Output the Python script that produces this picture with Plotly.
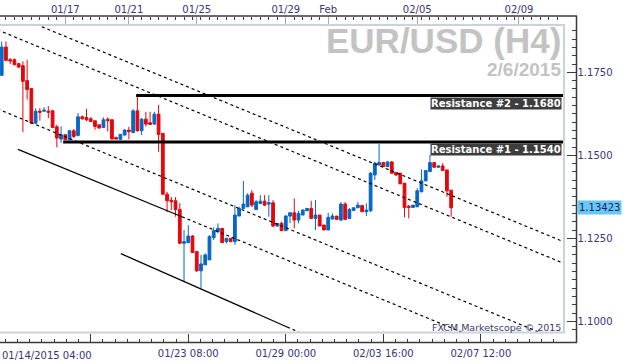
import plotly.graph_objects as go

W, H = 624, 364

# ---------------- data (EUR/USD, H4 bars) ----------------
opens = [1.1741, 1.1826, 1.1788, 1.1788, 1.1776, 1.1770, 1.1725, 1.1701, 1.1597, 1.1633,
         1.1633, 1.1633, 1.1634, 1.1586, 1.1549, 1.1562, 1.1547, 1.1574, 1.1560, 1.1616,
         1.1614, 1.1610, 1.1604, 1.1592, 1.1584, 1.1609, 1.1607, 1.1554, 1.1548, 1.1561,
         1.1576, 1.1569, 1.1634, 1.1574, 1.1609, 1.1598, 1.1594, 1.1624, 1.1566, 1.1383,
         1.1365, 1.1363, 1.1337, 1.1235, 1.1237, 1.1257, 1.1210, 1.1152, 1.1170, 1.1185,
         1.1252, 1.1270, 1.1280, 1.1240, 1.1250, 1.1240, 1.1317, 1.1340, 1.1345, 1.1386,
         1.1337, 1.1355, 1.1362, 1.1353, 1.1357, 1.1287, 1.1295, 1.1273, 1.1317, 1.1327,
         1.1305, 1.1320, 1.1333, 1.1340, 1.1310, 1.1320, 1.1290, 1.1275, 1.1308, 1.1317,
         1.1305, 1.1353, 1.1310, 1.1334, 1.1342, 1.1349, 1.1330, 1.1333, 1.1441, 1.1471,
         1.1478, 1.1466, 1.1480, 1.1448, 1.1446, 1.1416, 1.1347, 1.1343, 1.1345, 1.1390,
         1.1423, 1.1451, 1.1478, 1.1464, 1.1468, 1.1456, 1.1395]
highs = [1.1843, 1.1843, 1.1793, 1.1792, 1.1778, 1.1783, 1.1788, 1.1703, 1.1642, 1.1642,
         1.1645, 1.1648, 1.1637, 1.1592, 1.1587, 1.1564, 1.1577, 1.1579, 1.1627, 1.1620,
         1.1640, 1.1615, 1.1604, 1.1592, 1.1614, 1.1614, 1.1609, 1.1555, 1.1564, 1.1579,
         1.1586, 1.1639, 1.1685, 1.1612, 1.1631, 1.1631, 1.1631, 1.1652, 1.1567, 1.1390,
         1.1374, 1.1374, 1.1356, 1.1275, 1.1290, 1.1260, 1.1210, 1.1200, 1.1205, 1.1260,
         1.1283, 1.1295, 1.1281, 1.1251, 1.1251, 1.1350, 1.1345, 1.1423, 1.1386, 1.1395,
         1.1365, 1.1380, 1.1380, 1.1380, 1.1365, 1.1296, 1.1300, 1.1320, 1.1329, 1.1370,
         1.1333, 1.1338, 1.1341, 1.1363, 1.1365, 1.1320, 1.1290, 1.1327, 1.1325, 1.1317,
         1.1359, 1.1359, 1.1341, 1.1344, 1.1360, 1.1350, 1.1355, 1.1450, 1.1481, 1.1534,
         1.1480, 1.1481, 1.1483, 1.1450, 1.1447, 1.1417, 1.1350, 1.1350, 1.1401, 1.1458,
         1.1456, 1.1501, 1.1480, 1.1470, 1.1476, 1.1456, 1.1395]
lows = [1.1740, 1.1783, 1.1775, 1.1771, 1.1763, 1.1570, 1.1668, 1.1595, 1.1594, 1.1604,
        1.1630, 1.1612, 1.1582, 1.1524, 1.1537, 1.1546, 1.1546, 1.1552, 1.1557, 1.1607,
        1.1603, 1.1600, 1.1577, 1.1581, 1.1582, 1.1572, 1.1549, 1.1548, 1.1548, 1.1560,
        1.1548, 1.1566, 1.1571, 1.1561, 1.1586, 1.1592, 1.1592, 1.1511, 1.1380, 1.1329,
        1.1335, 1.1315, 1.1233, 1.1119, 1.1235, 1.1206, 1.1149, 1.1099, 1.1170, 1.1185,
        1.1245, 1.1265, 1.1236, 1.1235, 1.1239, 1.1230, 1.1317, 1.1339, 1.1344, 1.1344,
        1.1335, 1.1353, 1.1347, 1.1315, 1.1283, 1.1285, 1.1272, 1.1272, 1.1296, 1.1280,
        1.1295, 1.1320, 1.1332, 1.1310, 1.1275, 1.1287, 1.1275, 1.1275, 1.1307, 1.1307,
        1.1302, 1.1305, 1.1308, 1.1332, 1.1341, 1.1329, 1.1317, 1.1329, 1.1426, 1.1469,
        1.1465, 1.1465, 1.1444, 1.1438, 1.1414, 1.1313, 1.1310, 1.1343, 1.1345, 1.1389,
        1.1423, 1.1450, 1.1463, 1.1463, 1.1453, 1.1375, 1.1315]
closes = [1.1826, 1.1786, 1.1784, 1.1773, 1.1766, 1.1723, 1.1698, 1.1597, 1.1633, 1.1630,
          1.1636, 1.1630, 1.1584, 1.1552, 1.1562, 1.1547, 1.1574, 1.1557, 1.1616, 1.1610,
          1.1607, 1.1602, 1.1587, 1.1582, 1.1607, 1.1604, 1.1549, 1.1549, 1.1563, 1.1576,
          1.1571, 1.1634, 1.1574, 1.1609, 1.1594, 1.1593, 1.1624, 1.1563, 1.1383, 1.1363,
          1.1360, 1.1337, 1.1235, 1.1240, 1.1257, 1.1207, 1.1152, 1.1173, 1.1200, 1.1255,
          1.1273, 1.1280, 1.1237, 1.1250, 1.1240, 1.1320, 1.1340, 1.1353, 1.1380, 1.1350,
          1.1360, 1.1362, 1.1350, 1.1357, 1.1287, 1.1295, 1.1273, 1.1317, 1.1327, 1.1305,
          1.1325, 1.1335, 1.1340, 1.1310, 1.1320, 1.1287, 1.1275, 1.1313, 1.1317, 1.1307,
          1.1353, 1.1307, 1.1337, 1.1342, 1.1350, 1.1330, 1.1335, 1.1446, 1.1476, 1.1478,
          1.1466, 1.1480, 1.1446, 1.1441, 1.1414, 1.1343, 1.1343, 1.1350, 1.1393, 1.1423,
          1.1454, 1.1478, 1.1464, 1.1468, 1.1454, 1.1393, 1.1342]
bars = list(range(len(opens)))

last_price = 1.13423

# axis ticks / labels
bottom_tick_idx = [21, 44, 67, 90, 113]
bottom_tick_text = ["", "01/23 08:00", "01/29 00:00", "02/03 16:00", "02/07 12:00"]
first_bottom_label = "01/14/2015 04:00"
top_tick_idx = [15, 30, 46, 67, 77, 98, 122]
top_tick_text = ["01/17", "01/21", "01/25", "01/29", "Feb", "02/05", "02/09"]
price_ticks = [1.1000, 1.1250, 1.1500, 1.1750]
price_tick_text = ["1.1000", "1.1250", "1.1500", "1.1750"]

# resistance levels
res_labels = ["Resistance #2 - 1.1680", "Resistance #1 - 1.1540"]
res_levels = [1.1680, 1.1540]
res_start = [31.7, 14.5]
res_end = 134

# channel / trend lines (bar index, price)
ch_x0 = [-1, -1, -1, 3.84, 42.5, 28.1, 67.3]
ch_y0 = [1.19423, 1.1878, 1.1640, 1.1518, 1.1315, 1.1204, 1.0983]
ch_x1 = [134, 134, 134, 42.5, 134, 67.3, 80]
ch_y1 = [1.1232, 1.1167, 1.0929, 1.1315, 1.0833, 1.0983, 1.0912]
ch_dashed = [True, True, True, False, True, False, True]

title_text = "EUR/USD (H4)"
date_text = "2/6/2015"
credit_text = "FXCM Marketscope © 2015"

# ---------------- style ----------------
BLUE = "#0866c6"
RED = "#e2080e"
AX = "#3a3a3a"
TXT = "#35357a"
FONT = "DejaVu Sans"

X_RANGE = [-0.401, 132.85]
Y_RANGE = [1.09648, 1.18895]
px = lambda v: v / W
py = lambda v: (H - v) / H
# price value that sits at a given pixel row (used only to hang the day markers under the top axis)
price_at_row = lambda r: Y_RANGE[1] - (r - 26) * (Y_RANGE[1] - Y_RANGE[0]) / (333 - 26)

fig = go.Figure()

# channel lines
for x0, y0, x1, y1, d in zip(ch_x0, ch_y0, ch_x1, ch_y1, ch_dashed):
    fig.add_trace(go.Scatter(
        x=[x0, x1], y=[y0, y1], mode="lines",
        line=dict(color="black", width=1.2, dash="3px,3px" if d else "solid"),
        hoverinfo="skip", showlegend=False))

# candles
fig.add_trace(go.Candlestick(
    x=bars, open=opens, high=highs, low=lows, close=closes,
    increasing=dict(line=dict(color=BLUE, width=1), fillcolor=BLUE),
    decreasing=dict(line=dict(color=RED, width=1), fillcolor=RED),
    whiskerwidth=0, showlegend=False, hoverinfo="skip"))

# resistance lines (on top axis, which matches bottom axis)
for s, lv in zip(res_start, res_levels):
    fig.add_trace(go.Scatter(
        x=[s, res_end], y=[lv, lv], mode="lines", xaxis="x2",
        line=dict(color="black", width=3), hoverinfo="skip", showlegend=False))

# orange day markers hanging from the top axis
fig.add_trace(go.Scatter(
    x=top_tick_idx, y=[price_at_row(19)] * len(top_tick_idx), mode="markers", xaxis="x2",
    marker=dict(symbol="triangle-down", size=7, color="#f2a12b", line=dict(width=0)),
    cliponaxis=False, hoverinfo="skip", showlegend=False))

annotations = []
# watermark
annotations.append(dict(text="<b>%s</b>" % title_text, xref="paper", yref="paper",
                        x=px(563), y=py(19), xanchor="right", yanchor="top", showarrow=False,
                        font=dict(family="Liberation Sans", size=35, color="#c3c3c3")))
annotations.append(dict(text="<b>%s</b>" % date_text, xref="paper", yref="paper",
                        x=px(563), y=py(57), xanchor="right", yanchor="top", showarrow=False,
                        font=dict(family="Liberation Sans", size=19, color="#c3c3c3")))
# resistance labels
for lab, lv in zip(res_labels, res_levels):
    annotations.append(dict(text="<b>%s</b>" % lab, xref="paper", yref="y",
                            x=px(562), y=lv, xanchor="right", yanchor="top", yshift=-1,
                            showarrow=False, bgcolor="#3d3d3d", borderpad=0,
                            font=dict(family=FONT, size=10, color="white")))
# last price tag
annotations.append(dict(text=f"{last_price:.5f}", xref="paper", yref="y",
                        x=px(577), y=last_price, xanchor="left", yanchor="middle",
                        showarrow=False, bgcolor="#66c8f7", borderpad=1,
                        font=dict(family=FONT, size=10, color="#1c1c5c")))
# credit
annotations.append(dict(text=credit_text, xref="paper", yref="paper",
                        x=px(563), y=py(327.5), xanchor="right", yanchor="middle",
                        showarrow=False, font=dict(family=FONT, size=9.5, color="#3a3a6a")))
# first bottom label
annotations.append(dict(text=first_bottom_label, xref="paper", yref="paper",
                        x=0, y=py(355), xanchor="left", yanchor="middle",
                        showarrow=False, font=dict(family=FONT, size=10, color=TXT)))

shapes = [
    # inner light frame
    dict(type="rect", xref="paper", yref="paper", x0=px(-2), x1=px(564), y0=py(332.5), y1=py(25),
         line=dict(color="#c9d3df", width=2), layer="above"),
    # axis frame lines
    dict(type="line", xref="paper", yref="paper", x0=0, x1=px(577), y0=py(16), y1=py(16),
         line=dict(color=AX, width=1.5)),
    dict(type="line", xref="paper", yref="paper", x0=0, x1=px(577), y0=py(342.5), y1=py(342.5),
         line=dict(color=AX, width=1.5)),
    dict(type="line", xref="paper", yref="paper", x0=px(576.5), x1=px(576.5), y0=py(16), y1=py(343),
         line=dict(color=AX, width=1.5)),
]

tickfont = dict(family=FONT, size=10, color=TXT)
fig.update_layout(
    width=W, height=H, margin=dict(l=0, r=0, t=0, b=0),
    paper_bgcolor="white", plot_bgcolor="white", showlegend=False,
    boxgap=0.35, boxgroupgap=0,
    xaxis=dict(domain=[0, px(565)], range=X_RANGE, autorange=False, anchor="free",
               position=py(342.5),
               showgrid=False, zeroline=False, showline=False,
               rangeslider=dict(visible=False), fixedrange=True,
               tickmode="array", tickvals=bottom_tick_idx, ticktext=bottom_tick_text,
               ticks="inside", ticklen=9, tickcolor=AX, tickwidth=1,
               minor=dict(tickmode="linear", tick0=21, dtick=23 / 8, ticks="inside",
                          ticklen=4, tickcolor=AX, tickwidth=1, showgrid=False),
               tickfont=tickfont, ticklabelstandoff=3, automargin=False),
    xaxis2=dict(overlaying="x", matches="x", anchor="free", position=py(16), side="top",
                range=X_RANGE, autorange=False,
                showgrid=False, zeroline=False, showline=False, fixedrange=True,
                tickmode="array", tickvals=top_tick_idx, ticktext=top_tick_text,
                ticks="inside", ticklen=9, tickcolor="#a9a9a9", tickwidth=1,
                minor=dict(tickmode="linear", tick0=1, dtick=2, ticks="inside",
                           ticklen=3, tickcolor=AX, tickwidth=1, showgrid=False),
                tickfont=tickfont, ticklabelstandoff=1, automargin=False),
    yaxis=dict(domain=[py(333), py(26)], range=Y_RANGE, autorange=False, anchor="free",
               position=px(576.5),
               side="right", showgrid=False, zeroline=False, showline=False, fixedrange=True,
               tickmode="array", tickvals=price_ticks, ticktext=price_tick_text,
               ticks="inside", ticklen=10, tickcolor=AX, tickwidth=1,
               minor=dict(tickmode="linear", tick0=1.1, dtick=0.0025, ticks="inside",
                          ticklen=5, tickcolor=AX, tickwidth=1, showgrid=False),
               tickfont=tickfont, automargin=False),
    annotations=annotations, shapes=shapes,
)

fig.write_html("out.html", config={"displayModeBar": False},
               post_script="document.body.style.margin='0px';document.body.style.overflow='hidden';")
